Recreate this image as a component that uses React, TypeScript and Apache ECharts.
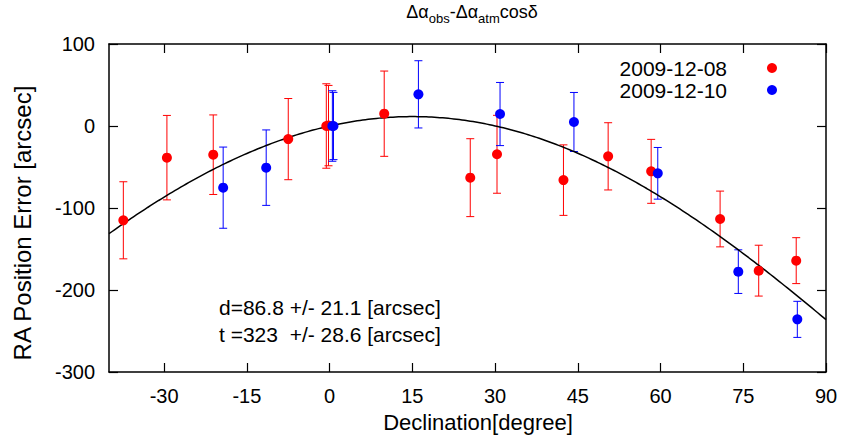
import React, { useEffect, useRef } from "react";
import * as echarts from "echarts";

const FONT = "'Liberation Sans', Arial, Helvetica, sans-serif";

// x tick labels (declination, degrees)
const xTickValues = [-30, -15, 0, 15, 30, 45, 60, 75, 90];

// 2009-12-08 (red)
const redDecl = [-37.4, -29.5, -21.1, -7.5, -0.6, -0.2, 9.9, 25.5, 30.35, 42.4, 50.5, 58.3, 70.8, 77.8, 84.6];
const redValue = [-115, -38.6, -35, -16, 0, 0.5, 15, -63, -34.5, -66, -37, -55.3, -113.4, -176.4, -164.2];
const redError = [47, 51.5, 48.5, 49.5, 51.5, 49, 52, 47.5, 47.5, 43, 41, 39, 34, 31, 28];

// 2009-12-10 (blue)
const blueDecl = [-19.3, -11.5, 0.5, 0.7, 16.1, 30.9, 44.3, 59.5, 74.1, 84.8];
const blueValue = [-75.2, -50.8, 0, 0, 38.6, 14.6, 4.9, -57.7, -177.6, -235.8];
const blueError = [49.5, 46, 43, 41, 41, 38.5, 36, 31.5, 26.6, 22];

// fitted parameters shown in the annotation
const fitD = 86.8;
const fitT = 323;
const fitRange = [-40, 90];

const redName = "2009-12-08";
const blueName = "2009-12-10";

function errorSeries(name: string, decl: number[], val: number[], err: number[], color: string) {
  return {
    type: "custom",
    name: name + "-err",
    data: decl.map((d, i) => [d, val[i] - err[i], val[i] + err[i]]),
    encode: { x: 0, y: [1, 2] },
    z: 2,
    renderItem: (params: any, api: any) => {
      const x = api.value(0);
      const pLo = api.coord([x, api.value(1)]);
      const pHi = api.coord([x, api.value(2)]);
      const w = 4;
      const style = { stroke: color, lineWidth: 1 };
      return {
        type: "group",
        children: [
          { type: "line", shape: { x1: pLo[0], y1: pLo[1], x2: pHi[0], y2: pHi[1] }, style },
          { type: "line", shape: { x1: pLo[0] - w, y1: pLo[1], x2: pLo[0] + w, y2: pLo[1] }, style },
          { type: "line", shape: { x1: pHi[0] - w, y1: pHi[1], x2: pHi[0] + w, y2: pHi[1] }, style },
        ],
      };
    },
  };
}

export default function App() {
  const ref = useRef<HTMLDivElement>(null);

  useEffect(() => {
    document.body.style.margin = "0";
    const chart = echarts.init(ref.current!, null, { renderer: "svg" });

    const fitData: number[][] = [];
    for (let d = fitRange[0]; d <= fitRange[1]; d += 0.5) {
      const r = (d * Math.PI) / 180;
      fitData.push([d, fitD * Math.sin(r) + fitT * (Math.cos(r) - 1)]);
    }

    const axisLine = { show: true, onZero: false, lineStyle: { color: "#000", width: 1.5 } };
    const tickStyle = { color: "#000", width: 1.2 };

    chart.setOption({
      animation: false,
      backgroundColor: "#fff",
      textStyle: { fontFamily: FONT },
      title: {
        text: "{a|Δα}{s|obs}{a|-Δα}{s|atm}{a|cosδ}",
        left: 467,
        top: -4,
        textAlign: "center",
        textStyle: {
          fontWeight: "normal",
          rich: {
            a: { fontSize: 18, fontWeight: "normal", color: "#000", fontFamily: FONT, verticalAlign: "bottom", lineHeight: 20 },
            s: { fontSize: 13, fontWeight: "normal", color: "#000", fontFamily: FONT, verticalAlign: "bottom", lineHeight: 14, padding: [0, 0, -4, 0] },
          },
        },
      },
      legend: {
        data: [
          { name: redName, icon: "circle" },
          { name: blueName, icon: "circle" },
        ],
        orient: "vertical",
        right: 60,
        top: 52,
        align: "right",
        itemWidth: 80,
        itemHeight: 10,
        itemGap: 0,
        textStyle: { fontSize: 21, color: "#000", fontFamily: FONT, lineHeight: 22 },
      },
      grid: { left: 109, right: 16, top: 44, bottom: 72 },
      xAxis: [
        {
          type: "value",
          min: -40,
          max: 90,
          axisLine,
          splitLine: { show: false },
          axisTick: { show: true, inside: true, length: 9, lineStyle: tickStyle, customValues: xTickValues },
          axisLabel: { fontSize: 20, color: "#000", margin: 14, fontFamily: FONT, customValues: xTickValues },
        },
        {
          type: "value",
          position: "top",
          min: -40,
          max: 90,
          axisLine,
          splitLine: { show: false },
          axisTick: { show: true, inside: true, length: 9, lineStyle: tickStyle, customValues: xTickValues },
          axisLabel: { show: false },
        },
      ],
      yAxis: [
        {
          type: "value",
          min: -300,
          max: 100,
          interval: 100,
          axisLine,
          splitLine: { show: false },
          axisTick: { show: true, inside: true, length: 9, lineStyle: tickStyle },
          axisLabel: { fontSize: 20, color: "#000", margin: 14, fontFamily: FONT },
        },
        {
          type: "value",
          position: "right",
          min: -300,
          max: 100,
          interval: 100,
          axisLine,
          splitLine: { show: false },
          axisTick: { show: true, inside: true, length: 9, lineStyle: tickStyle },
          axisLabel: { show: false },
        },
      ],
      series: [
        {
          type: "line",
          name: "fit",
          data: fitData,
          showSymbol: false,
          symbol: "none",
          lineStyle: { color: "#000", width: 1.5 },
          z: 3,
          silent: true,
        },
        errorSeries(redName, redDecl, redValue, redError, "#ff0000"),
        errorSeries(blueName, blueDecl, blueValue, blueError, "#0000ff"),
        {
          type: "scatter",
          name: redName,
          data: redDecl.map((d, i) => [d, redValue[i]]),
          symbol: "circle",
          symbolSize: 10,
          itemStyle: { color: "#ff0000", opacity: 1 },
          z: 4,
        },
        {
          type: "scatter",
          name: blueName,
          data: blueDecl.map((d, i) => [d, blueValue[i]]),
          symbol: "circle",
          symbolSize: 10,
          itemStyle: { color: "#0000ff", opacity: 1 },
          z: 4,
        },
      ],
      graphic: [
        {
          type: "text",
          left: 219,
          top: 294,
          style: {
            text: "d=86.8 +/- 21.1 [arcsec]\nt =323  +/- 28.6 [arcsec]",
            fontSize: 21,
            lineHeight: 27,
            fill: "#000",
            fontFamily: FONT,
          },
        },
        {
          type: "text",
          x: 478,
          y: 422,
          style: {
            text: "Declination[degree]",
            fontSize: 22,
            fill: "#000",
            fontFamily: FONT,
            align: "center",
            verticalAlign: "middle",
          },
        },
        {
          type: "text",
          x: 22,
          y: 223,
          rotation: Math.PI / 2,
          style: {
            text: "RA Position Error [arcsec]",
            fontSize: 24,
            fill: "#000",
            fontFamily: FONT,
            align: "center",
            verticalAlign: "middle",
          },
        },
      ],
    });

    return () => chart.dispose();
  }, []);

  return <div ref={ref} style={{ width: 842, height: 444, position: "absolute", left: 0, top: 0 }} />;
}
